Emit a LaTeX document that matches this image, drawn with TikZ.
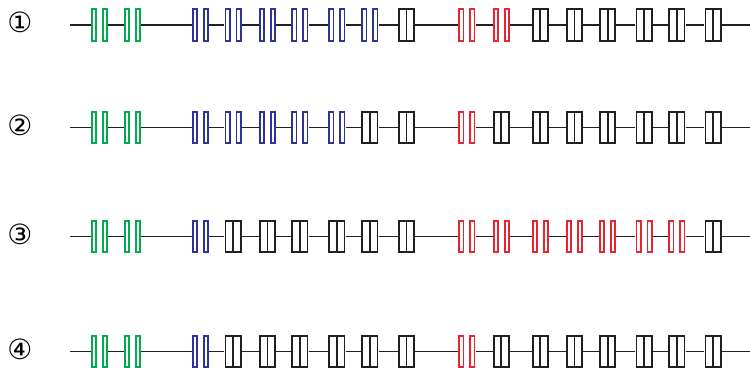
\documentclass[tikz,border=0pt]{standalone}
\usepackage{fontspec}
\newfontfamily\symfont{DejaVu Sans}
\definecolor{exgreen}{RGB}{0,172,78}
\definecolor{exblue}{RGB}{46,52,150}
\definecolor{exred}{RGB}{230,36,50}
\definecolor{exdark}{RGB}{35,31,32}
% left edges of the 17 slots along each strand
\def\slotx{{91,124,191.7,224.5,259,291.3,328.3,361.3,398,458.3,492.7,531.8,566,599.2,635.5,668.3,704.6}}
\tikzset{
  wire/.style={draw=exdark,line width=1.8bp},
  boxline/.style={line width=1.8bp},
  slot/.style={rectangle,draw=none,inner sep=0pt,minimum width=17bp,minimum height=33bp},
  numlabel/.style={font=\symfont\fontsize{28}{28}\selectfont,inner sep=0pt},
  slotk/.pic={
    \draw[boxline,exdark] (-7.6,-15.6) rectangle (7.6,15.6);
    \draw[boxline,exdark] (0,-15.6) -- (0,15.6);
  },
  slotg/.pic={
    \draw[boxline,exgreen] (-7.6,-15.6) rectangle (-3.4,15.6);
    \draw[boxline,exgreen] (3.4,-15.6) rectangle (7.6,15.6);
  },
  slotb/.pic={
    \draw[boxline,exblue] (-7.6,-15.6) rectangle (-3.4,15.6);
    \draw[boxline,exblue] (3.4,-15.6) rectangle (7.6,15.6);
  },
  slotr/.pic={
    \draw[boxline,exred] (-7.6,-15.6) rectangle (-3.4,15.6);
    \draw[boxline,exred] (3.4,-15.6) rectangle (7.6,15.6);
  },
}
\begin{document}
\begin{tikzpicture}[x=1bp,y=1bp]
\useasboundingbox (0,0) rectangle (750,367);
\clip (0,0) rectangle (750,367);
\foreach \r/\y/\lab/\pat in {
  1/342/①/{g,g,b,b,b,b,b,b,k,r,r,k,k,k,k,k,k},
  2/239.5/②/{g,g,b,b,b,b,b,k,k,r,k,k,k,k,k,k,k},
  3/130.5/③/{g,g,b,k,k,k,k,k,k,r,r,r,r,r,r,r,k},
  4/15.5/④/{g,g,b,k,k,k,k,k,k,r,k,k,k,k,k,k,k}}{
  \node[numlabel] (n\r) at (20,\y+2.5) {\lab};
  \coordinate (start\r) at (70,\y);
  \coordinate (end\r) at (750,\y);
  \foreach \t [count=\i] in \pat {
    \pgfmathsetmacro\sx{\slotx[\i-1]+8.5}
    \node[slot] (s\r-\i) at (\sx,\y) {};
    \pic at (s\r-\i) {slot\t};
  }
  \draw[wire] (start\r) -- (s\r-1.west);
  \foreach \i [remember=\i as \j (initially 1)] in {2,...,17} {
    \draw[wire] (s\r-\j.east) -- (s\r-\i.west);
  }
  \draw[wire] (s\r-17.east) -- (end\r);
}
\end{tikzpicture}
\end{document}
